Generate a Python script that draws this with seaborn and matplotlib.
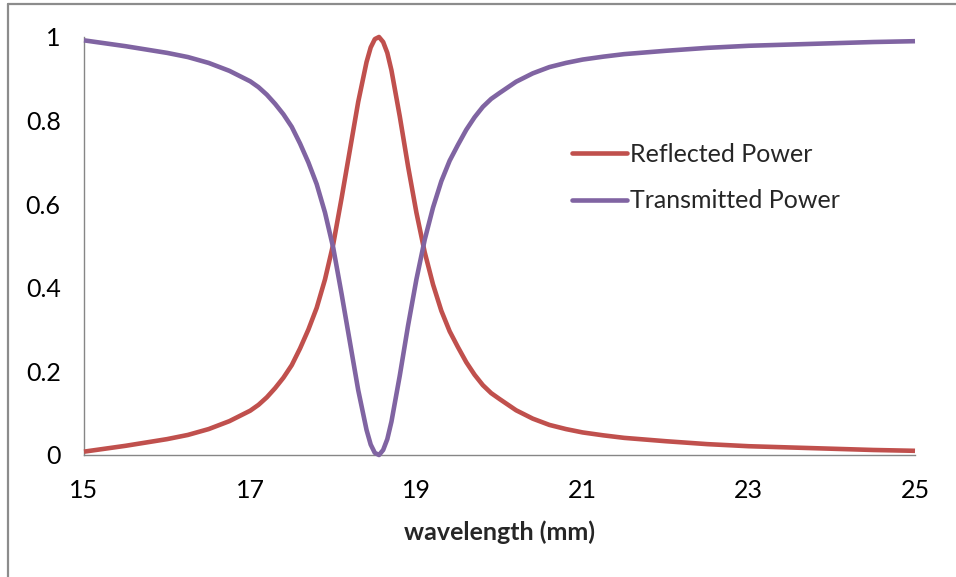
import matplotlib
matplotlib.use("Agg")
import matplotlib.pyplot as plt
from matplotlib.lines import Line2D
import seaborn as sns
import pandas as pd

# Wavelength samples (mm) and the measured power fractions
wavelength = [15.0, 15.25, 15.5, 15.75, 16.0, 16.25, 16.5, 16.75,
              17.0, 17.1, 17.2, 17.3, 17.4, 17.5, 17.6, 17.7, 17.8, 17.9,
              18.0, 18.1, 18.2, 18.3, 18.4, 18.45, 18.5, 18.55, 18.6, 18.65,
              18.7, 18.8, 18.9, 19.0, 19.1, 19.2, 19.3, 19.4, 19.5, 19.6,
              19.7, 19.8, 19.9, 20.0, 20.2, 20.4, 20.6, 20.8, 21.0, 21.25,
              21.5, 22.0, 22.5, 23.0, 23.5, 24.0, 24.5, 25.0]
reflected = [0.008, 0.015, 0.022, 0.030, 0.038, 0.048, 0.062, 0.081,
             0.106, 0.120, 0.138, 0.160, 0.185, 0.215, 0.255, 0.300, 0.352, 0.420,
             0.505, 0.615, 0.730, 0.845, 0.940, 0.975, 0.995, 1.000, 0.988, 0.962,
             0.920, 0.810, 0.690, 0.580, 0.485, 0.408, 0.345, 0.296, 0.258, 0.222,
             0.192, 0.167, 0.148, 0.134, 0.107, 0.087, 0.072, 0.062, 0.054, 0.047,
             0.041, 0.033, 0.026, 0.021, 0.018, 0.015, 0.012, 0.010]
transmitted = [0.992, 0.985, 0.978, 0.970, 0.962, 0.952, 0.938, 0.919,
               0.894, 0.880, 0.862, 0.840, 0.815, 0.785, 0.745, 0.700, 0.648, 0.580,
               0.495, 0.385, 0.270, 0.155, 0.060, 0.025, 0.005, 0.000, 0.012, 0.038,
               0.080, 0.190, 0.310, 0.420, 0.515, 0.592, 0.655, 0.704, 0.742, 0.778,
               0.808, 0.833, 0.852, 0.866, 0.893, 0.913, 0.928, 0.938, 0.946, 0.953,
               0.959, 0.967, 0.974, 0.979, 0.982, 0.985, 0.988, 0.990]
series_names = ["Reflected Power", "Transmitted Power"]
series_colors = ["#C0504D", "#8064A2"]
x_ticks = [15, 17, 19, 21, 23, 25]
y_ticks = [0, 0.2, 0.4, 0.6, 0.8, 1]
y_tick_labels = ["0", "0.2", "0.4", "0.6", "0.8", "1"]

df = pd.DataFrame({
    "wavelength": wavelength * 2,
    "power": reflected + transmitted,
    "series": [series_names[0]] * len(wavelength) + [series_names[1]] * len(wavelength),
})

sns.set_style("white")
plt.rcParams["font.family"] = ["Lato", "DejaVu Sans"]

W, H = 956, 577
fig = plt.figure(figsize=(W / 100, H / 100), dpi=100)
ax = fig.add_axes([84 / W, 1 - 455 / H, (915 - 84) / W, (455 - 37) / H])

line_w = 3.3
sns.lineplot(data=df, x="wavelength", y="power", hue="series",
             palette=dict(zip(series_names, series_colors)),
             linewidth=line_w, ax=ax, legend=False, sort=False, estimator=None)
for ln in ax.lines:
    ln.set_solid_joinstyle("round")
    ln.set_solid_capstyle("butt")
    ln.set_clip_on(False)

ax.set_xlim(15, 25)
ax.set_ylim(0, 1)
ax.set_xticks(x_ticks)
ax.set_xticklabels([str(t) for t in x_ticks])
ax.set_yticks(y_ticks)
ax.set_yticklabels(y_tick_labels)

axis_grey = "#868686"
for side in ["top", "right"]:
    ax.spines[side].set_visible(False)
for side in ["left", "bottom"]:
    ax.spines[side].set_color(axis_grey)
    ax.spines[side].set_linewidth(1.0)
    ax.spines[side].set_zorder(0.5)

ax.tick_params(axis="both", direction="out", length=5.8, width=1.0,
               color=axis_grey, labelsize=18, labelcolor="#000000")
ax.tick_params(axis="y", pad=11)
ax.tick_params(axis="x", pad=11.5)

ax.set_xlabel("wavelength (mm)", fontsize=18, fontweight="bold", labelpad=13.5)
ax.set_ylabel("")

handles = [Line2D([0], [0], color=c, lw=line_w, solid_capstyle="round") for c in series_colors]
ax.legend(handles, series_names, loc="center left", bbox_to_anchor=(0.587, 0.664),
          frameon=False, fontsize=18, handlelength=2.2, handletextpad=0.12,
          labelspacing=0.95, borderpad=0, borderaxespad=0)

# Chart area frame
fy = 1 - 3.8 / H
fx = 8.3 / W
fig.add_artist(Line2D([fx, fx], [0, fy], color="#8c8c8c", lw=1.6, transform=fig.transFigure))
fig.add_artist(Line2D([fx, 1], [fy, fy], color="#8c8c8c", lw=1.6, transform=fig.transFigure))

fig.savefig("out.png", dpi=100, facecolor="white")
